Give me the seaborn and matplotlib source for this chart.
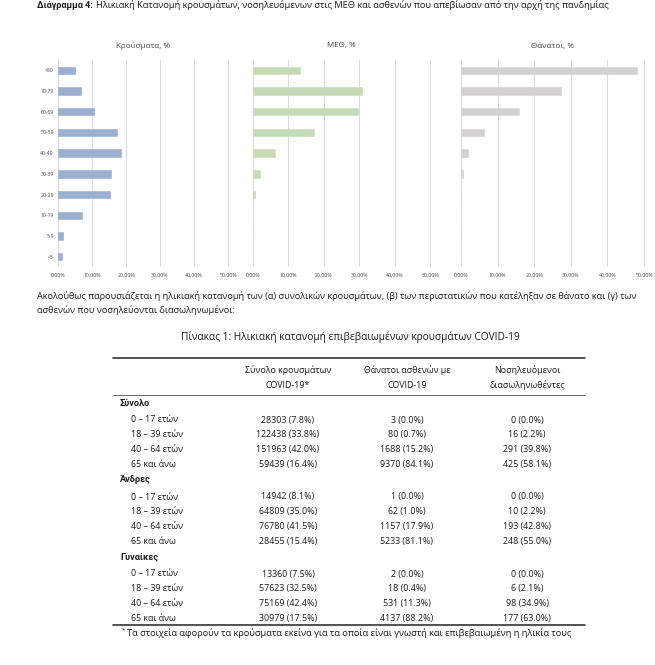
import matplotlib.pyplot as plt
import seaborn as sns
from matplotlib.lines import Line2D
from matplotlib.ticker import FuncFormatter

# age groups of the bar charts (top to bottom)
ages = ['>80', '70-79', '60-69', '50-59', '40-49', '30-39', '20-29', '10-19', '5-9', '<5']
cases_share = [5.1, 6.7, 10.6, 17.3, 18.5, 15.6, 15.4, 7.2, 1.4, 1.2]
icu_share = [13.2, 30.7, 29.7, 17.2, 6.2, 2.1, 0.7, 0.1, 0.0, 0.0]
deaths_share = [48.2, 27.3, 15.8, 6.3, 1.8, 0.5, 0.0, 0.0, 0.0, 0.0]
panel_titles = ['Κρούσματα, %', 'ΜΕΘ, %', 'Θάνατοι, %']
xticks = [0, 10, 20, 30, 40, 50]

# table 1
groups = ['Σύνολο', 'Άνδρες', 'Γυναίκες']
age_rows = ['0 – 17 ετών', '18 – 39 ετών', '40 – 64 ετών', '65 και άνω']
col_heads = [['Σύνολο κρουσμάτων', 'COVID-19*'],
             ['Θάνατοι ασθενών με', 'COVID-19'],
             ['Νοσηλευόμενοι', 'διασωληνωθέντες']]
tab_cases = [[28303, 122438, 151963, 59439], [14942, 64809, 76780, 28455], [13360, 57623, 75169, 30979]]
tab_cases_pct = [[7.8, 33.8, 42.0, 16.4], [8.1, 35.0, 41.5, 15.4], [7.5, 32.5, 42.4, 17.5]]
tab_deaths = [[3, 80, 1688, 9370], [1, 62, 1157, 5233], [2, 18, 531, 4137]]
tab_deaths_pct = [[0.0, 0.7, 15.2, 84.1], [0.0, 1.0, 17.9, 81.1], [0.0, 0.4, 11.3, 88.2]]
tab_intub = [[0, 16, 291, 425], [0, 10, 193, 248], [0, 6, 98, 177]]
tab_intub_pct = [[0.0, 2.2, 39.8, 58.1], [0.0, 2.2, 42.8, 55.0], [0.0, 2.1, 34.9, 63.0]]

sns.set_style('white')
plt.rcParams['font.family'] = ['Open Sans', 'Noto Sans', 'DejaVu Sans']
BOLD = ['Roboto', 'DejaVu Sans']

W, H = 655, 665
fig = plt.figure(figsize=(W / 100, H / 100), dpi=100)
fig.patch.set_facecolor('white')


def fx(x):
    return x / W


def fy(y):
    return 1 - y / H


def txt(x, y, s, **kw):
    kw.setdefault('va', 'center')
    kw.setdefault('fontsize', 6.4)
    kw.setdefault('color', '#1a1a1a')
    return fig.text(fx(x), fy(y), s, **kw)


def hline(x0, x1, y, lw, color):
    fig.add_artist(Line2D([fx(x0), fx(x1)], [fy(y), fy(y)], transform=fig.transFigure,
                          lw=lw, color=color))


# figure title: bold label, then the rest right after it
t = txt(37, 5, 'Διάγραμμα 4:', fontweight='bold', fontsize=6.5, family=BOLD)
fig.canvas.draw()
end = t.get_window_extent().x1
txt(end + 3, 5, 'Ηλικιακή Κατανομή κρουσμάτων, νοσηλευόμενων στις ΜΕΘ και ασθενών που απεβίωσαν από την αρχή της πανδημίας',
    fontsize=6.7)

# bar panels: (x of 0%, x of 50%)
panels = [(58, 228), (253, 430), (461, 644)]
series = [cases_share, icu_share, deaths_share]
colors = ['#94ADD8', '#C5DFB3', '#D3D1D1']
top, bottom = 60, 267
pct = FuncFormatter(lambda v, p: f'{v:.2f}%'.replace('.', ','))

for i in range(3):
    x0, x50 = panels[i]
    right = x0 + (x50 - x0) * 51 / 50
    ax = fig.add_axes([fx(x0), fy(bottom), (right - x0) / W, (bottom - top) / H])
    sns.barplot(x=series[i], y=ages, ax=ax, color=colors[i], width=0.36, orient='h',
                edgecolor=colors[i], linewidth=0.4)
    ax.set_xlim(0, 51)
    ax.set_ylim(9.5, -0.5)
    ax.set_xticks(xticks)
    ax.xaxis.set_major_formatter(pct)
    ax.xaxis.grid(True, color='#DCDCDC', lw=0.8)
    ax.set_axisbelow(True)
    for s in ax.spines.values():
        s.set_visible(False)
    ax.tick_params(axis='x', labelsize=3.7, colors='#444444', length=0, pad=4)
    ax.set_xlabel('')
    ax.set_ylabel('')
    if i == 0:
        ax.tick_params(axis='y', labelsize=3.7, colors='#444444', length=0, pad=3)
    else:
        ax.set_yticks([])
    txt((x0 + x50) / 2, 46, panel_titles[i], ha='center', fontsize=5.8, color='#444444')

# text between chart and table
txt(37, 296, 'Ακολούθως παρουσιάζεται η ηλικιακή κατανομή των (α) συνολικών κρουσμάτων, (β) των περιστατικών '
             'που κατέληξαν σε θάνατο και (γ) των', fontsize=6.6)
txt(37, 310, 'ασθενών που νοσηλεύονται διασωληνωμένοι:', fontsize=6.6)

txt(350, 337, 'Πίνακας 1: Ηλικιακή κατανομή επιβεβαιωμένων κρουσμάτων COVID-19', ha='center', fontsize=7.3)

# table
tx0, tx1 = 113, 585
col_x = [288, 407, 527]
hline(tx0, tx1, 358, 1.2, '#333333')
for c in range(3):
    txt(col_x[c], 370, col_heads[c][0], ha='center')
    txt(col_x[c], 385, col_heads[c][1], ha='center')
hline(tx0, tx1, 394.5, 0.7, '#666666')

for g in range(3):
    gy = 403 + g * 77
    txt(120, gy, groups[g], fontweight='bold', family=BOLD, fontsize=6.6)
    for r in range(4):
        ry = gy + 17 + r * 14.7
        txt(131, ry, age_rows[r])
        txt(col_x[0], ry, f'{tab_cases[g][r]} ({tab_cases_pct[g][r]:.1f}%)', ha='center')
        txt(col_x[1], ry, f'{tab_deaths[g][r]} ({tab_deaths_pct[g][r]:.1f}%)', ha='center')
        txt(col_x[2], ry, f'{tab_intub[g][r]} ({tab_intub_pct[g][r]:.1f}%)', ha='center')

hline(tx0, tx1, 625, 1.2, '#333333')
txt(122, 630, '*', fontsize=4.5)
txt(127, 633, 'Τα στοιχεία αφορούν τα κρούσματα εκείνα για τα οποία είναι γνωστή και επιβεβαιωμένη η ηλικία τους',
    fontsize=6.7)

fig.savefig('out.png', dpi=100)
